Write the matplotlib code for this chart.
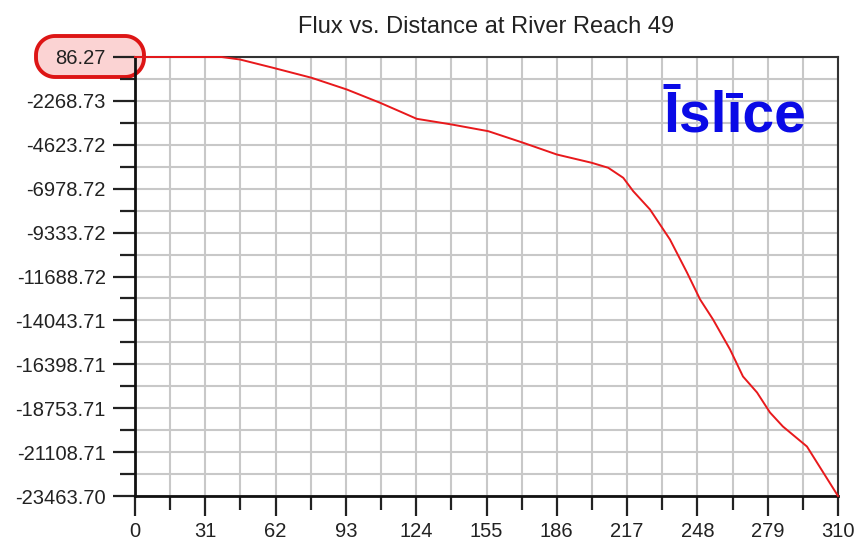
import matplotlib
matplotlib.use("Agg")
import matplotlib.pyplot as plt
from matplotlib.patches import Polygon
from matplotlib.transforms import IdentityTransform
import numpy as np

# distance along the reach and the flux
distance = [0, 38.2, 46.3, 60.9, 77.9, 93.4, 108.1, 118.2, 124.2, 139.7, 155.8,
            171.2, 186.0, 201.4, 208.7, 215.3, 219.7, 227.1, 235.9, 243.4, 249.2,
            254.9, 262.4, 268.1, 274.3, 280.0, 285.7, 296.3, 310]
flux = [86, 86, -48, -493, -1030, -1657, -2371, -2907, -3229, -3535, -3894,
        -4516, -5144, -5589, -5857, -6394, -7112, -8094, -9703, -11473, -12922,
        -13995, -15604, -17052, -17911, -18984, -19735, -20808, -23464]

x_ticks = [0, 31, 62, 93, 124, 155, 186, 217, 248, 279, 310]
y_tick_labels = ["86.27", "-2268.73", "-4623.72", "-6978.72", "-9333.72",
                 "-11688.72", "-14043.71", "-16398.71", "-18753.71",
                 "-21108.71", "-23463.70"]
y_ticks = [float(s) for s in y_tick_labels]

plt.rcParams['font.family'] = ['Liberation Sans', 'DejaVu Sans']

fig = plt.figure(figsize=(8.57, 5.46), dpi=100)
ax = fig.add_axes([135 / 857, 50 / 546, 703 / 857, 439 / 546])

ax.plot(distance, flux, color='#e8191c', lw=1.4, zorder=4, clip_on=False)

ax.set_xlim(0, 310)
ax.set_ylim(y_ticks[-1], y_ticks[0])

ax.set_xticks(x_ticks)
ax.set_xticks([v + 15.5 for v in x_ticks[:-1]], minor=True)
ax.set_yticks(y_ticks)
ax.set_yticklabels(y_tick_labels)
ax.set_yticks([(a + b) / 2 for a, b in zip(y_ticks[:-1], y_ticks[1:])], minor=True)

ax.grid(True, which='both', color='#c8c8c8', lw=1.5)
ax.set_axisbelow(True)

# tick lengths in points (px * 0.72)
ax.tick_params(axis='both', which='major', width=1.6, color='#222222',
               labelsize=14.5, labelcolor='#222222')
ax.tick_params(axis='y', which='major', length=15.5, pad=5.5)
ax.tick_params(axis='y', which='minor', length=10.5, width=1.6, color='#222222')
ax.tick_params(axis='x', which='major', length=14.5, pad=4)
ax.tick_params(axis='x', which='minor', length=10, width=1.6, color='#222222')

for side in ['left', 'bottom']:
    ax.spines[side].set_linewidth(2)
    ax.spines[side].set_color('#111111')
for side in ['top', 'right']:
    ax.spines[side].set_linewidth(1.5)
    ax.spines[side].set_color('#333333')

fig.text(486 / 857, 1 - 33 / 546, "Flux vs. Distance at River Reach 49",
         ha='center', va='baseline', fontsize=17, color='#222222')

fig.text(735 / 857, 1 - 132 / 546, "Īslīce", ha='center', va='baseline',
         fontsize=41, fontweight='bold', color='#0a0ae6')

# red pill-shaped highlight round the top value (pixel coords)
x0, x1, y0, y1, r = 36, 144, 546 - 77, 546 - 36, 19
corners = [(x1 - r, y1 - r, 0), (x0 + r, y1 - r, 90),
           (x0 + r, y0 + r, 180), (x1 - r, y0 + r, 270)]
pts = []
for cx, cy, a0 in corners:
    t = np.radians(np.linspace(a0, a0 + 90, 20))
    pts += list(zip(cx + r * np.cos(t), cy + r * np.sin(t)))
box = Polygon(pts, closed=True, transform=IdentityTransform(),
              facecolor='#fbd3d3', edgecolor='#dd1515', lw=2.8,
              clip_on=False, zorder=0.5)
ax.add_artist(box)

fig.savefig("out.png", dpi=100)
